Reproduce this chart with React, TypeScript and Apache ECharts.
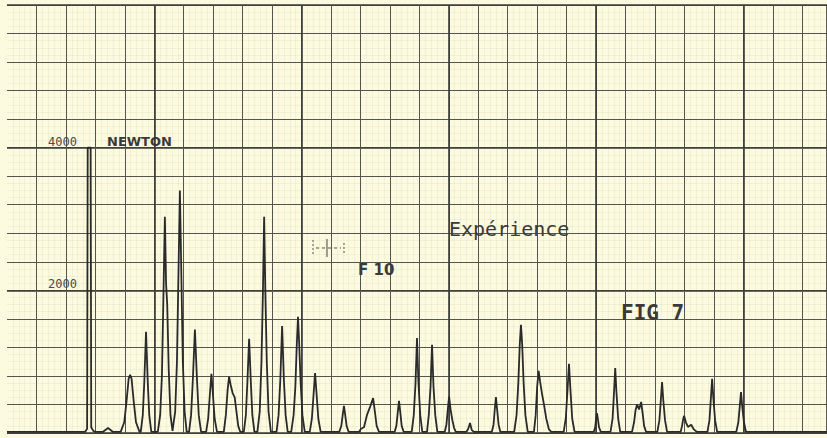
import React, { useEffect, useRef } from "react";
import * as echarts from "echarts";

// x in chart-paper units (10 units per major square), y in counts
const xMax = 278.4;
const yMax = 6000;
const yTickLabels = [2000, 4000];

const trace: [number, number][] = [
  [0, 15], [26.5, 15], [27.2, 60], [27.4, 4000], [28.4, 4000], [28.6, 80], [29.3, 30], [30, 15],
  [32.5, 15], [34.3, 70], [36, 15],
  [38.6, 15], [39.8, 150], [40.6, 450], [41.3, 760], [41.8, 815], [42.3, 760], [43.0, 450], [43.8, 150], [45.0, 15],
  [45.4, 15], [46.1, 250], [46.6, 700], [47.2, 1420], [47.8, 700], [48.3, 250], [49.0, 15],
  [51.2, 15], [52.0, 250], [52.6, 800], [53.1, 1900], [53.6, 3030], [54.0, 2100], [54.4, 1800], [54.9, 900], [55.5, 250], [56.2, 30],
  [56.4, 30], [57.1, 300], [57.7, 1000], [58.2, 2200], [58.7, 3400], [59.2, 2200], [59.7, 1000], [60.3, 300], [61.0, 15],
  [61.8, 15], [62.5, 250], [63.1, 750], [63.8, 1450], [64.5, 750], [65.1, 250], [65.9, 15],
  [67.6, 15], [68.3, 200], [68.9, 550], [69.4, 830], [69.9, 550], [70.5, 200], [71.3, 15],
  [73.6, 15], [74.3, 250], [74.9, 600], [75.4, 790], [75.9, 680], [76.6, 560], [77.3, 500], [77.9, 300], [78.5, 100], [79.2, 15],
  [80.4, 15], [81.1, 250], [81.6, 700], [82.2, 1320], [82.8, 700], [83.3, 250], [84.0, 15],
  [85.0, 15], [85.8, 300], [86.4, 1000], [86.9, 2000], [87.3, 3030], [87.7, 2000], [88.2, 1000], [88.8, 300], [89.6, 15],
  [91.5, 15], [92.2, 250], [92.8, 750], [93.4, 1500], [94.0, 750], [94.6, 250], [95.3, 15],
  [96.5, 15], [97.3, 250], [97.9, 650], [98.4, 1250], [98.8, 1630], [99.2, 1250], [99.7, 700], [100.3, 250], [101.1, 15],
  [102.8, 15], [103.5, 200], [104.1, 550], [104.6, 840], [105.1, 550], [105.7, 200], [106.5, 15],
  [112.8, 15], [113.5, 100], [114.0, 260], [114.4, 380], [114.8, 260], [115.3, 100], [116.0, 15],
  [119.5, 15], [120.2, 60], [121.2, 80], [122.2, 250], [123.4, 380], [124.3, 490], [124.9, 300], [125.5, 100], [126.3, 15],
  [131.6, 15], [132.2, 100], [132.7, 300], [133.1, 450], [133.5, 300], [134.0, 100], [134.7, 15],
  [137.4, 15], [138.1, 250], [138.7, 700], [139.2, 1330], [139.7, 700], [140.3, 250], [141.0, 15],
  [142.6, 15], [143.2, 250], [143.8, 650], [144.3, 1235], [144.8, 650], [145.4, 250], [146.1, 15],
  [148.6, 15], [149.2, 120], [149.7, 350], [150.1, 510], [150.6, 330], [151.2, 180], [151.8, 70], [152.4, 15],
  [156.0, 15], [156.6, 60], [157.2, 140], [157.8, 40], [158.6, 15],
  [164.6, 15], [165.2, 120], [165.6, 330], [166.0, 505], [166.4, 330], [166.9, 120], [167.5, 15],
  [172.2, 15], [173.0, 250], [173.6, 700], [174.1, 1250], [174.5, 1515], [174.9, 1250], [175.4, 700], [176.0, 250], [176.8, 15],
  [178.9, 15], [179.5, 250], [180.0, 650], [180.5, 870], [181.0, 720], [181.6, 560], [182.3, 400], [183.1, 200], [184.0, 50], [184.8, 15],
  [189.0, 15], [189.7, 200], [190.3, 600], [190.8, 970], [191.3, 600], [191.9, 200], [192.7, 15],
  [199.2, 15], [199.7, 80], [200.0, 200], [200.3, 280], [200.6, 200], [201.0, 80], [201.6, 15],
  [204.9, 15], [205.6, 200], [206.1, 580], [206.5, 910], [206.9, 580], [207.5, 200], [208.2, 15],
  [212.2, 15], [212.9, 150], [213.4, 320], [213.9, 400], [214.6, 330], [215.3, 435], [215.8, 280], [216.3, 100], [217.0, 15],
  [220.8, 15], [221.5, 180], [222.0, 470], [222.4, 715], [222.8, 470], [223.4, 180], [224.1, 15],
  [228.7, 15], [229.2, 100], [229.6, 200], [229.9, 240], [230.5, 150], [231.2, 85], [232.3, 115], [233.2, 50], [234.2, 15],
  [237.8, 15], [238.5, 180], [239.0, 500], [239.4, 760], [239.8, 500], [240.4, 180], [241.1, 15],
  [247.6, 15], [248.3, 150], [248.8, 380], [249.2, 575], [249.6, 380], [250.2, 150], [250.9, 15],
  [278.4, 15],
];

const annotations = [
  { text: "NEWTON", x: 107, y: 142, size: 13, weight: "bold", family: "DejaVu Sans" },
  { text: "Expérience", x: 449, y: 230, size: 20, weight: "normal", family: "DejaVu Sans Mono" },
  { text: "F 10", x: 358, y: 271, size: 15, weight: "bold", family: "DejaVu Sans" },
  { text: "FIG 7", x: 621, y: 314, size: 21, weight: "bold", family: "DejaVu Sans Mono" },
];

const ink = "#2a2a2a";
const gridCol = "#55554f";
const paper = "#fcfadf";

export default function App() {
  const ref = useRef<HTMLDivElement>(null);
  useEffect(() => {
    if (!ref.current) return;
    const chart = echarts.init(ref.current, undefined, { renderer: "svg" });
    const hiddenAxisParts = {
      axisLine: { show: false },
      axisTick: { show: false },
      axisLabel: { show: false },
    };
    chart.setOption({
      animation: false,
      backgroundColor: paper,
      grid: { left: 7, right: 0, top: 5, bottom: 5 },
      xAxis: [
        {
          type: "value", min: 0, max: xMax, interval: 10, ...hiddenAxisParts,
          splitLine: { show: true, showMinLine: false, lineStyle: { color: gridCol, width: 1 } },
          minorTick: { show: false, splitNumber: 5 },
          minorSplitLine: { show: true, lineStyle: { color: "rgba(120,120,90,0.07)", width: 1 } },
        },
        {
          type: "value", min: 0, max: xMax, interval: 50, position: "top", ...hiddenAxisParts,
          splitLine: { show: true, showMinLine: false, lineStyle: { color: "#3a3a36", width: 1.6 } },
        },
      ],
      yAxis: [
        {
          type: "value", min: 0, max: yMax, interval: 400,
          axisLine: { show: false }, axisTick: { show: false },
          axisLabel: {
            show: true, inside: true, margin: 41, verticalAlign: "bottom",
            color: "#4a4a4a", fontFamily: "DejaVu Sans Mono", fontSize: 12,
            formatter: (v: number) => (yTickLabels.includes(v) ? String(v) : ""),
          },
          splitLine: { show: true, lineStyle: { color: gridCol, width: 1 } },
          minorTick: { show: false, splitNumber: 4 },
          minorSplitLine: { show: true, lineStyle: { color: "rgba(120,120,90,0.07)", width: 1 } },
        },
        {
          type: "value", min: 0, max: yMax, interval: 2000, position: "right", ...hiddenAxisParts,
          splitLine: { show: true, lineStyle: { color: "#3a3a36", width: 1.6 } },
        },
      ],
      series: [
        {
          type: "line",
          xAxisIndex: 0,
          yAxisIndex: 0,
          data: trace,
          showSymbol: false,
          symbol: "none",
          lineStyle: { color: ink, width: 1.8 },
          z: 5,
        },
      ],
      graphic: [
        ...annotations.map((a) => ({
          type: "text",
          left: a.x,
          top: a.y - a.size / 2 - 1,
          z: 10,
          style: {
            text: a.text,
            fill: "#3a3a3a",
            font: `${a.weight} ${a.size}px "${a.family}"`,
          },
        })),
        { type: "line", z: 10, shape: { x1: 313, y1: 240, x2: 313, y2: 256 }, style: { stroke: "#555", lineWidth: 1, lineDash: [2, 2] } },
        { type: "line", z: 10, shape: { x1: 327, y1: 239, x2: 327, y2: 257 }, style: { stroke: "#444", lineWidth: 1 } },
        { type: "line", z: 10, shape: { x1: 344, y1: 243, x2: 344, y2: 253 }, style: { stroke: "#555", lineWidth: 1, lineDash: [2, 2] } },
        { type: "line", z: 10, shape: { x1: 316, y1: 248, x2: 341, y2: 248 }, style: { stroke: "#555", lineWidth: 1, lineDash: [3, 3] } },
      ],
    });
    return () => chart.dispose();
  }, []);
  return (
    <div
      ref={ref}
      style={{ position: "fixed", left: 0, top: 0, width: 827, height: 438 }}
    />
  );
}
